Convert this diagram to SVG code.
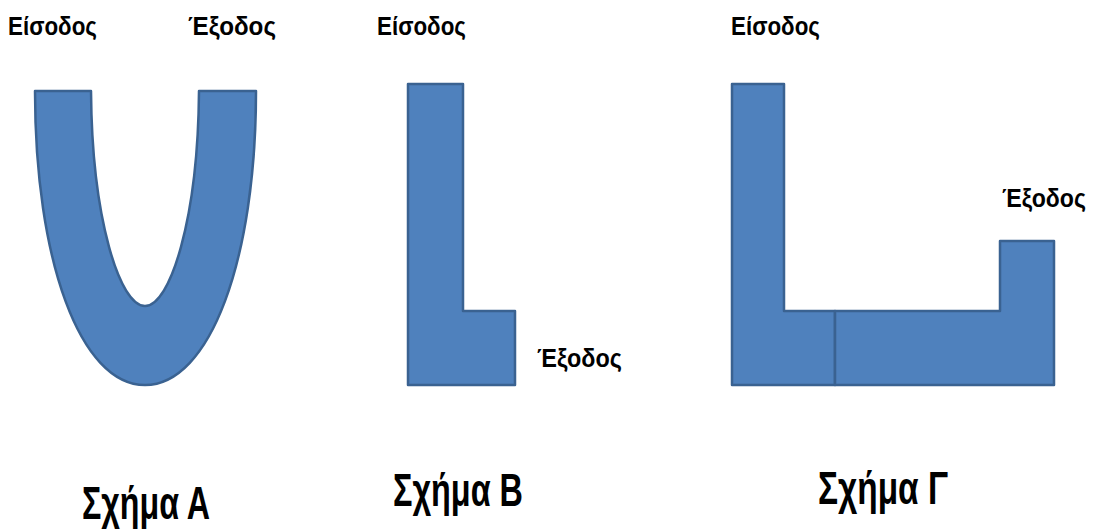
<svg xmlns="http://www.w3.org/2000/svg" width="1096" height="529" viewBox="0 0 1096 529">
  <style>
    .pipe { fill: #4F81BD; stroke: #3A6291; stroke-width: 2.5; stroke-linejoin: round; }
    .lbl { font-family: "Liberation Sans Narrow", "Liberation Sans", Arial, sans-serif; fill: #000; font-weight: bold; }
    .in { font-size: 26px; }
    .out { font-size: 26px; }
    .cap { font-size: 46px; }
  </style>
  <rect width="1096" height="529" fill="#fff"/>

  <!-- Shape A: U-shaped channel -->
  <g id="shape-a">
    <path class="pipe" d="M35,91 L91,91 C92,220 120,306 145,306 C170,306 198,220 199,91 L256,91 C256,260 210,385 145,385 C80,385 35,260 35,91 Z"/>
    <text class="lbl in" x="8" y="35" textLength="89" lengthAdjust="spacingAndGlyphs">Είσοδος</text>
    <text class="lbl out" x="188" y="35" textLength="88" lengthAdjust="spacingAndGlyphs">Έξοδος</text>
    <text class="lbl cap" x="82" y="519" textLength="128" lengthAdjust="spacingAndGlyphs">Σχήμα Α</text>
  </g>

  <!-- Shape B: L-shaped channel -->
  <g id="shape-b">
    <path class="pipe" d="M408,84 H463 V311 H515 V385 H408 Z"/>
    <text class="lbl in" x="377" y="35" textLength="89" lengthAdjust="spacingAndGlyphs">Είσοδος</text>
    <text class="lbl out" x="537" y="367" textLength="85" lengthAdjust="spacingAndGlyphs">Έξοδος</text>
    <text class="lbl cap" x="393" y="506" textLength="130" lengthAdjust="spacingAndGlyphs">Σχήμα Β</text>
  </g>

  <!-- Shape Γ: L section joined to a raised outlet section -->
  <g id="shape-c">
    <path class="pipe" d="M732,84 H784 V311 H835 V385 H732 Z"/>
    <path class="pipe" d="M835,311 H1000 V241 H1054 V385 H835 Z"/>
    <text class="lbl in" x="731" y="35" textLength="89" lengthAdjust="spacingAndGlyphs">Είσοδος</text>
    <text class="lbl out" x="1002" y="207" textLength="84" lengthAdjust="spacingAndGlyphs">Έξοδος</text>
    <text class="lbl cap" x="818" y="504" textLength="130" lengthAdjust="spacingAndGlyphs">Σχήμα Γ</text>
  </g>
</svg>
